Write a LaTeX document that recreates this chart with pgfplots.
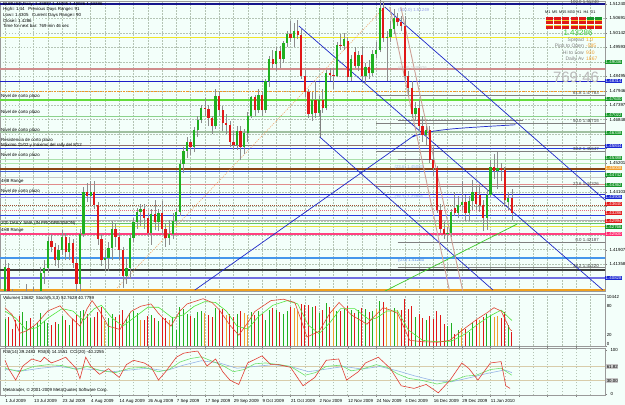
\documentclass[border=0pt]{standalone}
\usepackage{fontspec}
\setmainfont{Liberation Sans}
\usepackage{pgfplots}
\pgfplotsset{compat=1.18}
\usepackage{pgfplotstable}
\definecolor{bg}{HTML}{F3FFFA}
\definecolor{gridc}{HTML}{B4C4B4}
\definecolor{cup}{HTML}{20B020}
\definecolor{cdn}{HTML}{E01818}
\definecolor{corg}{HTML}{F0A030}
\definecolor{wick}{HTML}{8C8C8C}
\definecolor{lnavy}{RGB}{20,20,140}
\definecolor{lyel}{RGB}{240,230,40}
\definecolor{lrose}{RGB}{208,140,140}
\definecolor{lblue}{RGB}{30,30,200}
\definecolor{lorg}{RGB}{240,150,40}
\definecolor{lgreen}{RGB}{100,220,60}
\definecolor{llg1}{RGB}{140,210,140}
\definecolor{lgg}{RGB}{160,192,160}
\definecolor{lbrg}{RGB}{140,110,110}
\definecolor{lblue2}{RGB}{40,60,220}
\definecolor{llg2}{RGB}{170,224,170}
\definecolor{llg3}{RGB}{176,232,176}
\definecolor{lbrown}{RGB}{139,69,19}
\definecolor{lblue3}{RGB}{60,90,210}
\definecolor{lgray}{RGB}{200,200,200}
\definecolor{lpink}{RGB}{224,140,140}
\definecolor{lpurp}{RGB}{140,140,240}
\definecolor{lbrr}{RGB}{160,80,50}
\definecolor{lpink2}{RGB}{230,110,130}
\definecolor{lgray2}{RGB}{176,176,176}
\definecolor{lgreen2}{RGB}{100,195,100}
\definecolor{lyel2}{RGB}{232,224,60}
\definecolor{lhot}{RGB}{255,64,128}
\definecolor{lsky}{RGB}{70,150,235}
\definecolor{ldark}{RGB}{60,60,60}
\definecolor{lslate}{RGB}{112,112,225}
\definecolor{lorg2}{RGB}{240,160,32}
\definecolor{tblue}{RGB}{30,40,200}
\definecolor{tgreen}{RGB}{60,200,40}
\definecolor{tpink}{RGB}{205,160,150}
\definecolor{tdot}{RGB}{240,160,100}
\definecolor{fibA}{RGB}{150,160,230}
\definecolor{fibB}{RGB}{150,180,230}
\definecolor{fibC}{RGB}{90,140,225}
\definecolor{tagg}{RGB}{20,150,40}
\definecolor{tagb}{RGB}{25,40,210}
\definecolor{tagr}{RGB}{225,25,25}
\definecolor{tagp}{RGB}{255,40,110}
\definecolor{pgreen}{RGB}{60,200,60}
\definecolor{stg}{RGB}{80,230,60}
\definecolor{str}{RGB}{225,70,50}
\definecolor{rsib}{RGB}{150,180,230}
\definecolor{rsig}{RGB}{110,225,110}
\definecolor{rsir}{RGB}{225,60,50}
\definecolor{rlev}{RGB}{216,204,170}
\definecolor{stripe}{RGB}{240,200,40}
\definecolor{bigclock}{RGB}{185,185,185}
\newcommand\tf{\fontsize{4.4}{5}\selectfont}
\newcommand\hl[2]{\addplot[forget plot,#1] coordinates {(-3,#2) (171,#2)};}
\pgfplotstableread{
i o h l c d v k
0 1.4030 1.4150 1.4025 1.4125 1 5800 1
1 1.4120 1.4140 1.4000 1.4015 0 6200 0
2 1.4015 1.4040 1.3940 1.3970 0 3500 0
3 1.3970 1.3980 1.3890 1.3925 0 5600 0
4 1.3925 1.4000 1.3880 1.3910 0 6400 0
5 1.3910 1.3985 1.3860 1.3950 1 7100 1
6 1.3950 1.4060 1.3930 1.3995 1 5200 1
7 1.3995 1.4000 1.3900 1.3935 0 5900 0
8 1.3935 1.4050 1.3910 1.3975 1 4300 1
9 1.3975 1.4010 1.3920 1.3990 1 4800 1
10 1.3990 1.4125 1.3970 1.4100 1 6900 1
11 1.4100 1.4150 1.4060 1.4120 1 5200 1
12 1.4120 1.4240 1.4100 1.4225 1 4800 1
13 1.4225 1.4250 1.4180 1.4200 0 4400 0
14 1.4200 1.4215 1.4130 1.4150 0 5100 0
15 1.4150 1.4210 1.4120 1.4190 1 4700 1
16 1.4190 1.4265 1.4170 1.4240 1 6300 1
17 1.4240 1.4255 1.4150 1.4180 0 5600 0
18 1.4180 1.4240 1.4150 1.4215 1 4500 1
19 1.4215 1.4230 1.4120 1.4140 0 5800 0
20 1.4140 1.4160 1.4010 1.4060 0 6600 0
21 1.4060 1.4270 1.4035 1.4250 1 7300 1
22 1.4250 1.4430 1.4240 1.4410 1 7600 1
23 1.4410 1.4445 1.4370 1.4395 0 6800 0
24 1.4395 1.4450 1.4360 1.4410 1 5900 1
25 1.4410 1.4450 1.4345 1.4360 0 6100 0
26 1.4360 1.4370 1.4210 1.4230 0 7200 0
27 1.4230 1.4250 1.4130 1.4150 0 8300 0
28 1.4150 1.4190 1.4110 1.4160 1 5200 2
29 1.4160 1.4220 1.4110 1.4195 1 5900 1
30 1.4195 1.4300 1.4150 1.4270 1 6700 1
31 1.4270 1.4290 1.4200 1.4240 0 6100 0
32 1.4240 1.4255 1.4150 1.4190 0 6500 0
33 1.4190 1.4200 1.4045 1.4090 0 7600 0
34 1.4090 1.4160 1.4060 1.4120 1 5800 1
35 1.4120 1.4250 1.4080 1.4235 1 6900 1
36 1.4235 1.4310 1.4220 1.4295 1 7400 1
37 1.4295 1.4350 1.4270 1.4335 1 7000 1
38 1.4335 1.4365 1.4280 1.4345 1 5400 2
39 1.4345 1.4365 1.4270 1.4310 0 5600 0
40 1.4310 1.4330 1.4240 1.4255 0 6300 0
41 1.4255 1.4345 1.4210 1.4325 1 6500 1
42 1.4325 1.4380 1.4265 1.4295 0 6000 0
43 1.4295 1.4345 1.4260 1.4330 1 5200 1
44 1.4330 1.4375 1.4250 1.4270 0 6200 0
45 1.4270 1.4290 1.4200 1.4235 0 5900 0
46 1.4235 1.4305 1.4210 1.4250 1 5600 2
47 1.4250 1.4330 1.4230 1.4300 1 6100 1
48 1.4300 1.4350 1.4285 1.4335 1 3400 1
49 1.4335 1.4530 1.4320 1.4515 1 8200 1
50 1.4515 1.4580 1.4480 1.4565 1 7900 1
51 1.4565 1.4620 1.4540 1.4600 1 6800 1
52 1.4600 1.4610 1.4550 1.4580 0 6400 0
53 1.4580 1.4655 1.4560 1.4645 1 6000 1
54 1.4645 1.4700 1.4620 1.4685 1 7100 1
55 1.4685 1.4740 1.4670 1.4730 1 7400 1
56 1.4730 1.4765 1.4700 1.4725 0 6900 2
57 1.4725 1.4740 1.4660 1.4690 0 6500 0
58 1.4690 1.4700 1.4630 1.4660 0 6200 0
59 1.4660 1.4800 1.4650 1.4775 1 8100 1
60 1.4775 1.4795 1.4700 1.4720 0 7600 0
61 1.4720 1.4735 1.4640 1.4670 0 7800 0
62 1.4670 1.4705 1.4630 1.4665 0 6600 2
63 1.4665 1.4680 1.4580 1.4600 0 6800 0
64 1.4600 1.4640 1.4570 1.4590 0 6200 0
65 1.4590 1.4660 1.4570 1.4640 1 6700 1
66 1.4640 1.4660 1.4530 1.4580 0 7400 0
67 1.4580 1.4650 1.4555 1.4635 1 6900 2
68 1.4635 1.4715 1.4600 1.4700 1 6600 2
69 1.4700 1.4775 1.4690 1.4770 1 7200 1
70 1.4770 1.4780 1.4700 1.4720 0 6500 0
71 1.4720 1.4800 1.4710 1.4780 1 7400 1
72 1.4780 1.4795 1.4700 1.4720 0 6800 0
73 1.4720 1.4840 1.4710 1.4830 1 5400 1
74 1.4830 1.4925 1.4810 1.4915 1 7600 1
75 1.4915 1.4950 1.4880 1.4895 0 8000 0
76 1.4895 1.4960 1.4870 1.4945 1 7600 1
77 1.4945 1.4965 1.4880 1.4915 0 7200 0
78 1.4915 1.4985 1.4900 1.4975 1 6800 1
79 1.4975 1.5020 1.4960 1.5010 1 7500 1
80 1.5010 1.5060 1.4980 1.4995 0 8300 0
81 1.4995 1.5050 1.4960 1.5020 1 8000 2
82 1.5020 1.5065 1.4990 1.5005 0 7400 2
83 1.5005 1.5030 1.4840 1.4850 0 8800 0
84 1.4850 1.4875 1.4770 1.4790 0 8600 0
85 1.4790 1.4800 1.4690 1.4705 0 8700 0
86 1.4705 1.4790 1.4680 1.4760 1 8200 1
87 1.4760 1.4830 1.4690 1.4710 0 8400 0
88 1.4710 1.4775 1.4695 1.4760 1 7000 1
89 1.4760 1.4800 1.4710 1.4730 0 7600 0
90 1.4730 1.4875 1.4720 1.4860 1 9200 1
91 1.4860 1.4880 1.4830 1.4855 0 8300 0
92 1.4855 1.4880 1.4800 1.4850 0 8100 2
93 1.4850 1.4980 1.4845 1.4970 1 7400 1
94 1.4970 1.5010 1.4950 1.4965 0 7300 0
95 1.4965 1.5015 1.4950 1.4990 1 7800 1
96 1.4985 1.5000 1.4830 1.4845 0 8400 0
97 1.4845 1.4930 1.4830 1.4915 1 7600 1
98 1.4940 1.4960 1.4880 1.4890 0 7000 0
99 1.4890 1.4945 1.4870 1.4930 1 7600 1
100 1.4930 1.4965 1.4830 1.4850 0 8000 0
101 1.4850 1.4900 1.4820 1.4885 1 7800 1
102 1.4885 1.4910 1.4840 1.4860 0 7100 0
103 1.4860 1.4950 1.4850 1.4935 1 7400 1
104 1.4935 1.4980 1.4920 1.4950 1 7900 2
105 1.4950 1.5144 1.4940 1.5110 1 9600 1
106 1.5110 1.5130 1.4980 1.4995 0 9300 0
107 1.4995 1.5020 1.4830 1.5000 1 8300 2
108 1.5000 1.5060 1.4980 1.5030 1 7300 2
109 1.5030 1.5105 1.5010 1.5070 1 8100 1
110 1.5070 1.5090 1.5040 1.5055 0 7600 2
111 1.5055 1.5080 1.5020 1.5040 0 7600 0
112 1.5040 1.5080 1.4830 1.4850 0 9900 0
113 1.4850 1.4870 1.4780 1.4805 0 7900 0
114 1.4805 1.4830 1.4690 1.4705 0 8400 0
115 1.4705 1.4750 1.4680 1.4730 1 6200 1
116 1.4730 1.4760 1.4640 1.4660 0 6800 0
117 1.4660 1.4700 1.4600 1.4625 0 6000 0
118 1.4625 1.4660 1.4590 1.4645 1 5600 1
119 1.4645 1.4660 1.4520 1.4530 0 6300 0
120 1.4530 1.4580 1.4470 1.4500 0 5700 0
121 1.4500 1.4510 1.4330 1.4340 0 7400 0
122 1.4340 1.4365 1.4255 1.4270 0 6600 0
123 1.4270 1.4295 1.4230 1.4250 0 4600 0
124 1.4250 1.4275 1.4219 1.4255 1 4200 1
125 1.4255 1.4345 1.4240 1.4335 1 4800 1
126 1.4350 1.4410 1.4320 1.4330 0 2600 0
127 1.4330 1.4395 1.4310 1.4360 1 3300 1
128 1.4360 1.4450 1.4340 1.4370 1 3900 2
129 1.4370 1.4400 1.4300 1.4330 0 3600 0
130 1.4330 1.4395 1.4300 1.4375 1 3000 1
131 1.4375 1.4455 1.4340 1.4410 1 4800 1
132 1.4410 1.4430 1.4340 1.4365 0 5400 0
133 1.4400 1.4435 1.4335 1.4360 0 5600 2
134 1.4360 1.4380 1.4260 1.4310 0 6200 0
135 1.4310 1.4420 1.4265 1.4400 1 6800 1
136 1.4400 1.4530 1.4390 1.4505 1 6500 1
137 1.4505 1.4555 1.4460 1.4490 0 6100 2
138 1.4490 1.4560 1.4420 1.4500 1 6400 2
139 1.4500 1.4520 1.4450 1.4495 0 5900 0
140 1.4495 1.4505 1.4360 1.4380 0 7200 0
141 1.4370 1.4410 1.4340 1.4385 1 4400 1
142 1.4385 1.4420 1.4303 1.4329 0 3000 0
}\candles
\pgfplotsset{
  mtbase/.style={scale only axis, width=605pt, xmin=-1.4, xmax=168.1,
    axis background/.style={fill=bg}, axis line style={draw=gray!80, line width=0.5pt},
    xtick={0,8,...,160}, minor xtick={4,12,...,164}, xmajorgrids, xminorgrids,
    major grid style={gridc, dash pattern=on 1.5pt off 1.5pt, line width=0.35pt},
    minor grid style={gridc, dash pattern=on 1.5pt off 1.5pt, line width=0.35pt},
    clip mode=individual, tick label style={font=\tf},
    /pgf/number format/assume math mode=true, scaled y ticks=false,
    ytick pos=right, yticklabel pos=right, tick align=outside, major tick length=2pt,
    minor tick length=0pt, ytick style={draw=gray}},
}
\begin{document}
\begin{tikzpicture}
\fill[bg] (0pt,0pt) rectangle (625pt,405pt);
\path[use as bounding box] (0pt,0pt) rectangle (625pt,405pt);
% ================= main panel
\begin{axis}[mtbase, at={(0pt,404pt)}, anchor=north west, height=290pt,
  ymin=1.40334, ymax=1.51354, xticklabels={}, xtick style={draw=none},
  ymajorgrids,
  ytick={1.40809,1.41358,1.41907,1.42456,1.43005,1.43554,1.44103,1.44652,1.45201,1.45750,1.46299,1.46848,1.47397,1.47946,1.48495,1.49044,1.49593,1.50142,1.50691,1.51240},
  yticklabels={,1.41358,1.41907,,,,1.44103,,1.45201,,,1.46848,1.47397,1.47946,1.48495,,1.49593,1.50142,1.50691,1.51240},
  yticklabel style={xshift=-1pt}]
\hl{lnavy, line width=1.3pt}{1.51240}
\hl{lyel, line width=0.9pt}{1.49986}
\hl{lrose, line width=1.2pt}{1.48770}
\hl{lblue, line width=0.9pt}{1.48314}
\hl{lorg, line width=0.8pt, dash pattern=on 2pt off 1pt on 0.6pt off 1pt}{1.47934}
\hl{lgreen, line width=1.6pt}{1.47592}
\hl{llg1, line width=0.9pt}{1.46984}
\hl{lgg, line width=1.2pt}{1.46376}
\hl{lbrg, line width=0.9pt}{1.45882}
\hl{lblue2, line width=0.9pt}{1.45768}
\hl{llg2, line width=0.8pt}{1.45350}
\hl{llg3, line width=0.8pt}{1.45198}
\hl{lbrown, line width=1.4pt}{1.44970}
\hl{lblue3, line width=0.7pt}{1.44870}
\hl{lgray, line width=0.8pt}{1.44666}
\hl{lpink, line width=1pt}{1.44362}
\hl{lblue, line width=1pt}{1.43982}
\hl{lpurp, line width=1pt}{1.43890}
\hl{lbrr, line width=0.8pt, dash pattern=on 1pt off 1pt}{1.43602}
\hl{lpink2, line width=0.8pt, dash pattern=on 1pt off 1pt}{1.43412}
\hl{lblue2, line width=1pt}{1.43184}
\hl{lgray2, line width=0.8pt}{1.43032}
\hl{lgreen2, line width=1pt}{1.42880}
\hl{lyel2, line width=1pt}{1.42766}
\hl{lhot, line width=1.2pt}{1.42500}
\hl{lsky, line width=1.2pt}{1.41588}
\hl{ldark, line width=1.2pt}{1.41132}
\hl{lslate, line width=1.2pt}{1.40828}
\hl{lorg2, line width=1.6pt}{1.40372}
% fib segments
\addplot[forget plot, gray, line width=0.5pt] coordinates {(104,1.47783) (171,1.47783)};
\addplot[forget plot, gray, line width=0.5pt] coordinates {(104,1.46715) (171,1.46715)};
\addplot[forget plot, gray, line width=0.5pt] coordinates {(104,1.45647) (171,1.45647)};
\addplot[forget plot, gray, line width=0.5pt] coordinates {(104,1.44326) (171,1.44326)};
\addplot[forget plot, gray, line width=0.5pt] coordinates {(110,1.42190) (171,1.42190)};
\addplot[forget plot, gray, line width=0.5pt] coordinates {(110,1.41220) (171,1.41220)};
\addplot[forget plot, gray, line width=0.5pt] coordinates {(110,1.46830) (145,1.46830)};
\addplot[forget plot, gray, line width=0.6pt] coordinates {(110,1.45350) (120,1.45350)};
% trend / channel lines
\addplot[forget plot, tblue, line width=0.7pt] coordinates {(82.35,1.50404) (167.5,1.40372)};
\addplot[forget plot, tblue, line width=0.7pt] coordinates {(106.4,1.51126) (168.1,1.43792)};
\addplot[forget plot, gray, line width=0.6pt] coordinates {(88.2,1.47210) (88.2,1.46186)};
\addplot[forget plot, tblue, line width=0.7pt] coordinates {(88.2,1.46186) (136.7,1.40372)};
\addplot[forget plot, tblue, line width=0.7pt, smooth] coordinates {(53.2,1.40372) (110.0,1.45800) (114.2,1.46190) (119.0,1.46380) (125.0,1.46490) (133.0,1.46570) (143.0,1.46650)};
\addplot[forget plot, tgreen, line width=0.7pt] coordinates {(106.0,1.40300) (143.5,1.42880)};
\addplot[forget plot, tpink, line width=0.9pt] coordinates {(107.8,1.51126) (124.6,1.40300)};
\addplot[forget plot, tpink, line width=0.9pt] coordinates {(110.9,1.51126) (128.3,1.40300)};
\addplot[forget plot, tdot, line width=0.6pt, dash pattern=on 1pt off 1.2pt] coordinates {(31.4,1.40448) (106.4,1.51126)};
% candles
\addplot[forget plot, draw=none, mark=none, error bars/.cd, y dir=plus, y explicit, error mark=none,
  error bar style={draw=wick, line width=0.5pt}] table[x=i, y=l, y error expr=\thisrow{h}-\thisrow{l}] {\candles};
\addplot[forget plot, draw=none, mark=none, restrict x to domain=-5:200, error bars/.cd, y dir=plus, y explicit, error mark=none,
  error bar style={draw=cup, line width=2.3pt}] table[x expr=\thisrow{i}+1000*(1-\thisrow{d}), y=o, y error expr=\thisrow{c}-\thisrow{o}] {\candles};
\addplot[forget plot, draw=none, mark=none, restrict x to domain=-5:200, error bars/.cd, y dir=plus, y explicit, error mark=none,
  error bar style={draw=cdn, line width=2.3pt}] table[x expr=\thisrow{i}+1000*\thisrow{d}, y=c, y error expr=\thisrow{o}-\thisrow{c}] {\candles};
% level captions
\node[font=\tf, anchor=south west, inner sep=0.3pt] at (axis cs:-1.2,1.47630) {Nivel de corto plazo};
\node[font=\tf, anchor=south west, inner sep=0.3pt] at (axis cs:-1.2,1.47022) {Nivel de corto plazo};
\node[font=\tf, anchor=south west, inner sep=0.3pt] at (axis cs:-1.2,1.46338) {Nivel de corto plazo};
\node[font=\tf, anchor=south west, inner sep=0.3pt] at (axis cs:-1.2,1.45970) {Resistencia de corto plazo};
\node[font=\tf, anchor=south west, inner sep=0.3pt] at (axis cs:-1.2,1.45790) {Máximo 11/02 y máximo del rally del 8/12};
\node[font=\tf, anchor=south west, inner sep=0.3pt] at (axis cs:-1.2,1.45388) {Nivel de corto plazo};
\node[font=\tf, anchor=south west, inner sep=0.3pt] at (axis cs:-1.2,1.44400) {4H8 Range};
\node[font=\tf, anchor=south west, inner sep=0.3pt] at (axis cs:-1.2,1.44020) {Nivel de corto plazo};
\node[font=\tf, anchor=south west, inner sep=0.3pt] at (axis cs:-1.2,1.42800) {200 DAILY SMA (IN PROGRESSION)};
\node[font=\tf, anchor=south west, inner sep=0.3pt] at (axis cs:-1.2,1.42530) {4H8 Range};
% fib captions
\node[font=\tf, anchor=south east, inner sep=0.3pt, text=black!75] at (axis cs:166.5,1.51240) {100.0  1.51240};
\node[font=\tf, anchor=south east, inner sep=0.3pt, text=black!75] at (axis cs:166.5,1.47783) {61.8  1.47783};
\node[font=\tf, anchor=south east, inner sep=0.3pt, text=black!75] at (axis cs:166.5,1.46715) {50.0  1.46715};
\node[font=\tf, anchor=south east, inner sep=0.3pt, text=black!75] at (axis cs:166.5,1.45647) {38.2  1.45647};
\node[font=\tf, anchor=south east, inner sep=0.3pt, text=black!75] at (axis cs:166.5,1.44326) {23.6  1.44326};
\node[font=\tf, anchor=south east, inner sep=0.3pt, text=black!75] at (axis cs:166.5,1.42190) {0.0  1.42187};
\node[font=\tf, anchor=south east, inner sep=0.3pt, text=black!75] at (axis cs:166.5,1.41220) {38.2  1.41220};
\node[font=\tf, anchor=south west, inner sep=0.3pt, text=fibA] at (axis cs:110,1.50900) {(100.0) 1.51249};
\node[font=\tf, anchor=south west, inner sep=0.3pt, text=lgray] at (axis cs:110,1.48700) {(61.8) 1.48926};
\node[font=\tf, anchor=south west, inner sep=0.3pt, text=fibB] at (axis cs:109,1.44950) {(23.6) 1.45083};
\node[font=\tf, anchor=south west, inner sep=0.3pt, text=fibB] at (axis cs:109,1.43800) {(38.2) 1.43955};
\node[font=\tf, anchor=south west, inner sep=0.3pt, text=fibC] at (axis cs:110,1.41400) {(0.0) 1.41260};
% price tags at right
\node[font=\tf, anchor=west, inner sep=0.5pt, text=white, fill=tagg] at (axis cs:168.1,1.49036) {1.49036};
\node[font=\tf, anchor=west, inner sep=0.5pt, text=white, fill=tagb] at (axis cs:168.1,1.48314) {1.48314};
\node[font=\tf, anchor=west, inner sep=0.5pt, text=white, fill=tagg] at (axis cs:168.1,1.47630) {1.47630};
\node[font=\tf, anchor=west, inner sep=0.5pt, text=white, fill=tagg] at (axis cs:168.1,1.47022) {1.47022};
\node[font=\tf, anchor=west, inner sep=0.5pt, text=white, fill=tagg] at (axis cs:168.1,1.46338) {1.46338};
\node[font=\tf, anchor=west, inner sep=0.5pt, text=white, fill=tagb] at (axis cs:168.1,1.45844) {1.45844};
\node[font=\tf, anchor=west, inner sep=0.5pt, text=white, fill=tagg] at (axis cs:168.1,1.45388) {1.45388};
\node[font=\tf, anchor=west, inner sep=0.5pt, text=white, fill=corg] at (axis cs:168.1,1.45008) {1.45008};
\node[font=\tf, anchor=west, inner sep=0.5pt, text=white, fill=tagg] at (axis cs:168.1,1.44742) {1.44742};
\node[font=\tf, anchor=west, inner sep=0.5pt, text=white, fill=tagg] at (axis cs:168.1,1.44362) {1.44362};
\node[font=\tf, anchor=west, inner sep=0.5pt, text=white, fill=tagb] at (axis cs:168.1,1.43906) {1.43906};
\node[font=\tf, anchor=west, inner sep=0.5pt, text=white, fill=tagr] at (axis cs:168.1,1.43640) {1.43640};
\node[font=\tf, anchor=west, inner sep=0.5pt, text=white, fill=tagr] at (axis cs:168.1,1.43286) {1.43286};
\node[font=\tf, anchor=west, inner sep=0.5pt, text=white, fill=tagr] at (axis cs:168.1,1.42994) {1.42994};
\node[font=\tf, anchor=west, inner sep=0.5pt, text=white, fill=tagg] at (axis cs:168.1,1.42766) {1.42766};
\node[font=\tf, anchor=west, inner sep=0.5pt, text=white, fill=tagp] at (axis cs:168.1,1.42500) {1.42500};
\node[font=\tf, anchor=west, inner sep=0.5pt, text=white, fill=tagb] at (axis cs:168.1,1.40828) {1.40828};
\end{axis}
% header text
\node[font=\tf, anchor=west, inner sep=0pt] at (3pt,401pt) {EURUSD,Daily \ 1.43837 1.44205 1.43026 1.43286};
\node[font=\tf, anchor=west, inner sep=0pt] at (3pt,395.5pt) {High= 1.44 \ \ Previous Days Range= 91};
\node[font=\tf, anchor=west, inner sep=0pt] at (3pt,390pt) {Low= 1.4305 \ \ Current Days Range= 90};
\node[font=\tf, anchor=west, inner sep=0pt] at (3pt,384.5pt) {Close= 1.4286};
\node[font=\tf, anchor=west, inner sep=0pt] at (3pt,379pt) {Time for next bar: 769 min 46 sec};
% top-right block
\node[font=\fontsize{3.8}{4}\selectfont, anchor=west, inner sep=0] at (545pt,393pt) {M1 \,M5 \,M15 M30 \,H1 \ H4 \ D1};
\foreach \cx/\ca in {546/cdn,554/cdn,562/cdn,571/cdn,579/cdn,587/tagg,595/tagg}{
  \fill[\ca] (\cx pt,385pt) rectangle ++(7pt,3.4pt);}
\foreach \cx in {546,554,562,571,579,587,595}{
  \fill[cdn] (\cx pt,380.6pt) rectangle ++(7pt,3.4pt);
  \fill[cdn] (\cx pt,376.2pt) rectangle ++(7pt,3.4pt);
  \fill[stripe] (\cx pt,384.2pt) rectangle ++(7pt,0.6pt);
  \fill[stripe] (\cx pt,379.8pt) rectangle ++(7pt,0.6pt);}
\node[font=\fontsize{8}{8}\selectfont, text=pgreen, anchor=center] at (578pt,372pt) {1.43286};
\node[font=\fontsize{5}{5}\selectfont, inner sep=0, anchor=east, text=gray] at (584pt,365pt) {Spread};
\node[font=\fontsize{5}{5}\selectfont, inner sep=0, anchor=west, text=corg] at (586pt,365pt) {1.0};
\node[font=\fontsize{5}{5}\selectfont, inner sep=0, anchor=east, text=gray] at (584pt,359pt) {Pips to Open};
\node[font=\fontsize{5}{5}\selectfont, inner sep=0, anchor=west, text=corg] at (586pt,359pt) {-585};
\node[font=\fontsize{5}{5}\selectfont, inner sep=0, anchor=east, text=gray] at (584pt,352.5pt) {Hi to Low};
\node[font=\fontsize{5}{5}\selectfont, inner sep=0, anchor=west, text=corg] at (586pt,352.5pt) {930};
\node[font=\fontsize{5}{5}\selectfont, inner sep=0, anchor=east, text=gray] at (584pt,346pt) {Daily Av};
\node[font=\fontsize{5}{5}\selectfont, inner sep=0, anchor=west, text=corg] at (586pt,346pt) {1867};
\node[font=\fontsize{15}{15}\selectfont, text=bigclock, anchor=center] at (576pt,328pt) {769:46};
% ================= volume panel
\begin{axis}[mtbase, at={(0pt,111pt)}, anchor=north west, height=52pt,
  ymin=0, ymax=11000, xticklabels={}, xtick style={draw=none}, ytick={0}, yticklabels={}]
\addplot[forget plot, ycomb, draw=cup, line width=0.9pt, mark=none, restrict x to domain=-5:200] table[x expr=\thisrow{i}+1000*abs(\thisrow{k}-1), y=v] {\candles};
\addplot[forget plot, ycomb, draw=cdn, line width=0.9pt, mark=none, restrict x to domain=-5:200] table[x expr=\thisrow{i}+1000*\thisrow{k}, y=v] {\candles};
\addplot[forget plot, ycomb, draw=corg, line width=0.9pt, mark=none, restrict x to domain=-5:200] table[x expr=\thisrow{i}+1000*abs(\thisrow{k}-2), y=v] {\candles};
\node[font=\tf, anchor=north west, inner sep=0.5pt] at (rel axis cs:0.004,0.97) {Volumes 13682 \ Stoch(5,3,3) 52.7628 40.7759};
\end{axis}
\begin{axis}[scale only axis, width=605pt, at={(0pt,111pt)}, anchor=north west, height=52pt,
  xmin=-1.4, xmax=168.1, ymin=-4, ymax=106, axis lines=none, clip mode=individual]
\addplot[stg, line width=0.6pt] coordinates {(0,70) (3,55) (6,30) (9,35) (12,55) (16,75) (19,70) (22,50) (25,75) (27,82) (30,55) (33,38) (36,55) (40,78) (43,78) (47,55) (50,62) (53,80) (56,90) (59,88) (62,70) (65,38) (68,32) (71,58) (75,82) (79,92) (82,85) (85,40) (88,22) (91,45) (94,75) (98,75) (102,52) (104,55) (107,70) (110,70) (113,30) (117,8) (121,5) (125,6) (129,22) (133,45) (136,60) (139,72) (142,50)};
\addplot[str, line width=0.6pt] coordinates {(0,77) (2,62) (4.2,23) (6,28) (8.7,42) (12,70) (15.4,81) (18,60) (21,38) (23,75) (24.4,92) (26.6,69) (28.9,38) (32.2,31) (35.3,69) (38,80) (40.9,85) (43,65) (46.5,38) (49,70) (51,85) (55.5,96) (58,88) (60,73) (63,40) (65.5,19) (68,45) (70,69) (74.5,92) (78,95) (81.2,88) (83,50) (84.6,15) (88,27) (91,65) (93.6,88) (97,62) (101.4,42) (103,55) (105.9,77) (108,72) (110,65) (113.4,8) (117,5) (121.3,4) (124.6,8) (129.1,35) (132.5,54) (135,66) (137,77) (139,70) (141.5,31) (142,28)};
\node[font=\tf, anchor=west, inner sep=0.5pt] at (axis cs:168.4,100) {10442};
\node[font=\tf, anchor=west, inner sep=0.5pt] at (axis cs:168.4,80) {80};
\node[font=\tf, anchor=west, inner sep=0.5pt] at (axis cs:168.4,20) {20};
\node[font=\tf, anchor=west, inner sep=0.5pt] at (axis cs:168.4,0) {0};
\end{axis}
% ================= RSI panel
\begin{axis}[mtbase, at={(0pt,57pt)}, anchor=north west, height=47pt,
  ymin=-3, ymax=104, ytick={0,100},
  xticklabels={1 Jul 2009,13 Jul 2009,23 Jul 2009,4 Aug 2009,14 Aug 2009,26 Aug 2009,7 Sep 2009,17 Sep 2009,29 Sep 2009,9 Oct 2009,21 Oct 2009,2 Nov 2009,12 Nov 2009,24 Nov 2009,4 Dec 2009,16 Dec 2009,29 Dec 2009,11 Jan 2010,{},{},{}},
  xticklabel style={anchor=north west, xshift=-3pt, yshift=1pt}, xtick style={draw=gray}]
\hl{rlev, line width=0.8pt}{61.8}
\hl{rlev, line width=0.8pt}{30}
\addplot[forget plot, rsib, line width=0.6pt] coordinates {(0,55) (5,52) (10,58) (15,62) (20,57) (25,55) (30,50) (35,54) (40,58) (45,52) (50,65) (55,75) (60,70) (65,58) (70,62) (75,66) (80,62) (85,50) (90,56) (95,62) (100,56) (105,62) (110,52) (115,40) (120,30) (125,27) (130,36) (135,46) (140,54) (142,48)};
\addplot[forget plot, rsig, line width=0.6pt] coordinates {(0,58) (4,50) (8,62) (12,66) (16,64) (20,55) (23,62) (27,52) (31,48) (35,58) (39,60) (43,50) (46,55) (49,72) (52,80) (55,84) (58,74) (61,64) (64,50) (67,55) (70,68) (73,70) (77,66) (80,62) (84,42) (87,48) (90,62) (94,65) (97,52) (100,56) (104,66) (107,60) (110,45) (113,35) (117,30) (121,22) (125,28) (129,40) (132,42) (136,55) (139,58) (142,42)};
\addplot[forget plot, rsir, line width=0.6pt] coordinates {(0,76) (1,57) (3,31) (5,63) (7.5,79) (10,73) (11,83) (13,70) (15,76) (17,83) (20,57) (21,34) (22.6,83) (24,63) (26.5,44) (29,57) (32,37) (34,66) (36,76) (39,70) (41,60) (43,31) (45,50) (48,83) (50,92) (52,95) (54,97) (56.6,63) (59,79) (61,50) (63,31) (65.5,21) (68,70) (72,86) (74.5,66) (76.7,66) (80,60) (83.5,18) (86.8,37) (90,76) (93.5,79) (95.7,31) (99,50) (101,70) (104.6,83) (108,57) (110,31) (111,18) (114.6,12) (118,21) (121.4,2) (124.7,31) (128,70) (130,57) (132.5,31) (136,70) (139,73) (140.3,18) (141.5,12)};
\node[font=\tf, anchor=north west, inner sep=0.5pt] at (rel axis cs:0.004,0.97) {RSI(14) 39.2483 \ RSI(8) 14.1551 \ CCI(20) -40.2255};
\node[font=\tf, anchor=south west, inner sep=0.5pt] at (rel axis cs:0.004,0.03) {Metatrader, © 2001-2009 MetaQuotes Software Corp.};
\node[font=\tf, anchor=west, inner sep=0.5pt, fill=lgray] at (axis cs:168.4,61.8) {61.82};
\node[font=\tf, anchor=west, inner sep=0.5pt, fill=lgray] at (axis cs:168.4,30) {30.00};
\end{axis}
\end{tikzpicture}
\end{document}
